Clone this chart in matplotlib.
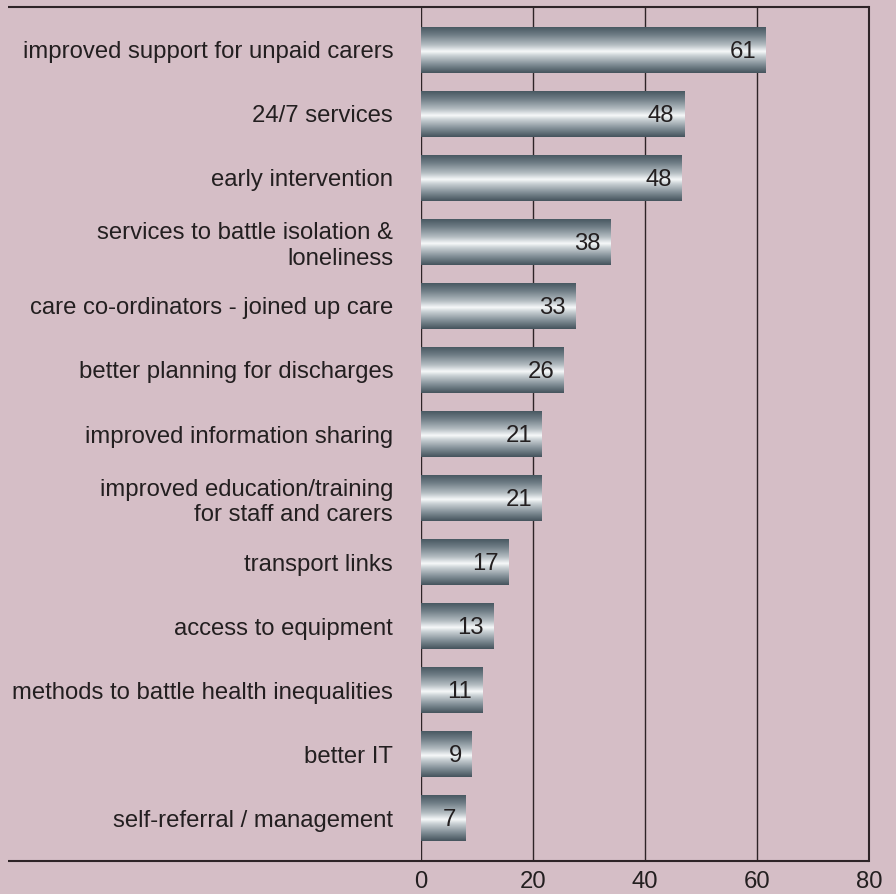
import matplotlib
matplotlib.use("Agg")
import matplotlib.pyplot as plt
import numpy as np
from matplotlib.colors import LinearSegmentedColormap

categories = [
    "improved support for unpaid carers",
    "24/7 services",
    "early intervention",
    "services to battle isolation &\nloneliness",
    "care co-ordinators - joined up care",
    "better planning for discharges",
    "improved information sharing",
    "improved education/training\nfor staff and carers",
    "transport links",
    "access to equipment",
    "methods to battle health inequalities",
    "better IT",
    "self-referral / management",
]
bar_lengths = [61.6, 47.0, 46.6, 33.8, 27.5, 25.5, 21.6, 21.6, 15.7, 12.9, 10.9, 9.1, 8.0]
value_labels = ["61", "48", "48", "38", "33", "26", "21", "21", "17", "13", "11", "9", "7"]
xticks = [0, 20, 40, 60, 80]

BG = "#d5bec6"
TXT = "#231f20"
LINE = "#2e2427"
FS = 17.2

plt.rcParams["font.family"] = ["Liberation Sans", "DejaVu Sans"]

fig = plt.figure(figsize=(8.96, 8.94), dpi=100)
fig.patch.set_facecolor(BG)
W, H = 896, 894
ax = fig.add_axes([421 / W, 1 - 861 / H, (869 - 421) / W, (861 - 7) / H])
ax.set_facecolor(BG)

n = len(categories)
ypos = np.arange(n)
bars = ax.barh(ypos, bar_lengths, height=0.73, color="none", edgecolor="none", zorder=3)

cmap = LinearSegmentedColormap.from_list(
    "metal",
    [(0.0, "#44545d"), (0.18, "#6d7b84"), (0.4, "#b3bcc1"), (0.54, "#f7f9fa"),
     (0.63, "#c9d0d4"), (0.83, "#7d8a92"), (1.0, "#44535c")],
)
grad = np.linspace(0, 1, 256).reshape(-1, 1)
for b in bars:
    x0, y0 = b.get_x(), b.get_y()
    w, h = b.get_width(), b.get_height()
    im = ax.imshow(grad, cmap=cmap, aspect="auto", extent=(x0, x0 + w, y0 + h, y0),
                   origin="upper", zorder=3, interpolation="bilinear")
    im.set_clip_path(b)

for b, lab in zip(bars, value_labels):
    ax.text(b.get_width() - 1.75, b.get_y() + b.get_height() / 2 + 0.03, lab,
            ha="right", va="center", fontsize=FS, color=TXT, zorder=4)

ax.set_xlim(0, 80)
ax.set_ylim(n - 1 + 0.67, -0.67)
ax.set_yticks(ypos)
ax.set_yticklabels(categories, fontsize=FS, color=TXT, linespacing=1.2)
ax.set_xticks(xticks)
ax.set_xticklabels([str(t) for t in xticks], fontsize=FS, color=TXT)
ax.tick_params(axis="both", length=0)
ax.tick_params(axis="y", pad=20)
ax.tick_params(axis="x", pad=7)

for t in xticks[:-1]:
    ax.axvline(t, color=LINE, lw=1.0, zorder=1)

ax.spines["left"].set_visible(False)
ax.spines["top"].set_visible(False)
ax.spines["bottom"].set_visible(False)
ax.spines["right"].set_color(LINE)
ax.spines["right"].set_linewidth(1.5)

left_ext = -(421 - 8) / (869 - 421)
for yy in (0, 1):
    ax.plot([left_ext, 1], [yy, yy], transform=ax.transAxes, color=LINE, lw=1.5,
            clip_on=False, zorder=5, solid_capstyle="butt")

fig.savefig("out.png", dpi=100, facecolor=BG)
